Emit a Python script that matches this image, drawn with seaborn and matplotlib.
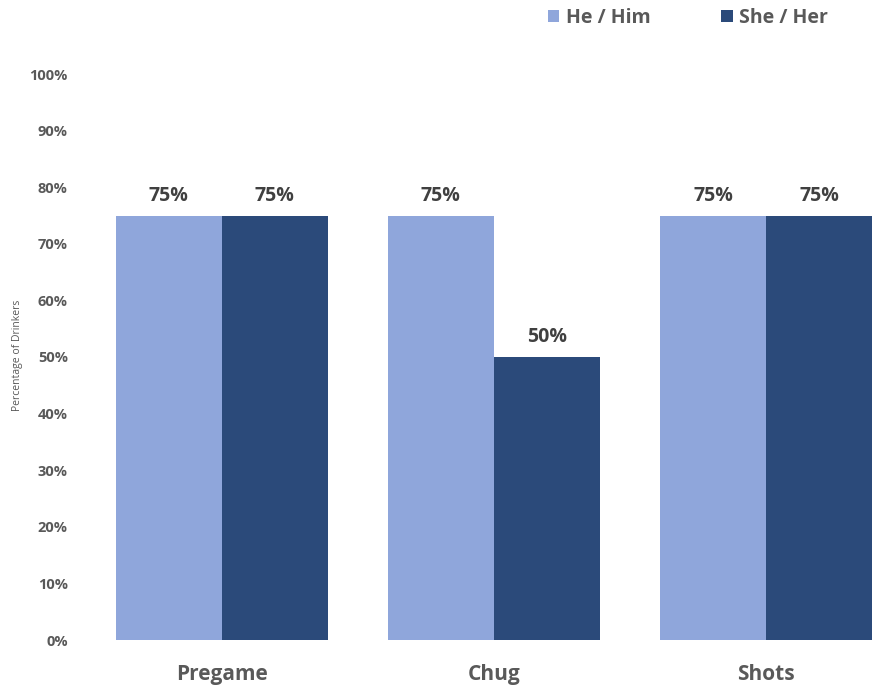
import matplotlib
matplotlib.use("Agg")
import matplotlib.pyplot as plt
import seaborn as sns
import pandas as pd
from matplotlib.ticker import FuncFormatter

categories = ["Pregame", "Chug", "Shots"]
series_names = ["He / Him", "She / Her"]
he_values = [75, 75, 75]
she_values = [75, 50, 75]
y_ticks = [0, 10, 20, 30, 40, 50, 60, 70, 80, 90, 100]

colors = ["#8FA6DB", "#2B4A7A"]

sns.set_theme(style="white")
plt.rcParams["font.family"] = ["Open Sans", "DejaVu Sans"]

df = pd.DataFrame({
    "Activity": categories * 2,
    "Group": [series_names[0]] * 3 + [series_names[1]] * 3,
    "Value": he_values + she_values,
})

fig = plt.figure(figsize=(8.75, 6.89), dpi=100)
ax = fig.add_axes([90 / 875, 49 / 689, 785 / 875, 566 / 689])

sns.barplot(data=df, x="Activity", y="Value", hue="Group", order=categories,
            hue_order=series_names, palette=colors, width=0.78, gap=0,
            linewidth=0, saturation=1, ax=ax, errorbar=None)

ax.set_ylim(0, 100)
ax.set_xlim(-0.484, 2.40)
ax.set_yticks(y_ticks)
ax.yaxis.set_major_formatter(FuncFormatter(lambda v, p: f"{int(v)}%"))
ax.tick_params(axis="y", length=0, pad=16, labelsize=10.5, labelcolor="#595959")
ax.tick_params(axis="x", length=0, pad=17, labelsize=15, labelcolor="#595959")
for lab in ax.get_yticklabels() + ax.get_xticklabels():
    lab.set_fontweight("bold")

for cont in ax.containers:
    ax.bar_label(cont, labels=[f"{int(v)}%" for v in cont.datavalues],
                 padding=7, fontsize=14, fontweight="bold", color="#404040")

ax.set_xlabel("")
ax.set_ylabel("")
fig.text(18 / 875, 1 - 355 / 689, "Percentage of Drinkers", rotation=90,
         ha="center", va="center", fontsize=7.5, color="#595959")

for s in ax.spines.values():
    s.set_visible(False)
ax.grid(False)

handles, labels = ax.get_legend_handles_labels()
if ax.get_legend() is not None:
    ax.get_legend().remove()
leg = fig.legend(handles, labels, loc="center", bbox_to_anchor=(688 / 875, 1 - 18 / 689),
                 ncol=2, frameon=False, handlelength=0.6, handleheight=0.6,
                 handletextpad=0.35, columnspacing=3.6, fontsize=14)
for t in leg.get_texts():
    t.set_fontweight("bold")
    t.set_color("#595959")

fig.savefig("out.png", dpi=100, facecolor="white")
